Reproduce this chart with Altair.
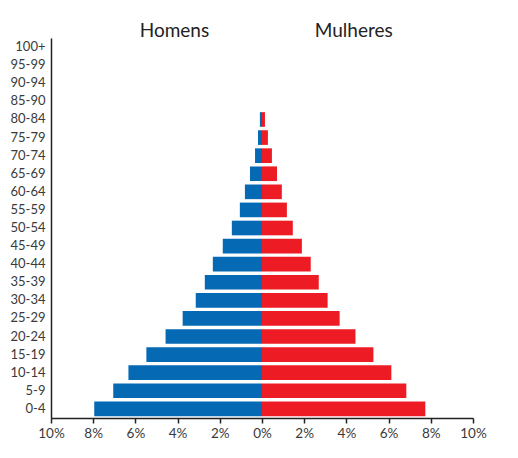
import altair as alt
import pandas as pd

ages = ["0-4", "5-9", "10-14", "15-19", "20-24", "25-29", "30-34", "35-39",
        "40-44", "45-49", "50-54", "55-59", "60-64", "65-69", "70-74", "75-79",
        "80-84", "85-90", "90-94", "95-99", "100+"]
homens = [7.95, 7.05, 6.33, 5.48, 4.57, 3.76, 3.14, 2.71, 2.33, 1.86, 1.43,
          1.05, 0.81, 0.57, 0.33, 0.19, 0.10, 0, 0, 0, 0]
mulheres = [7.74, 6.84, 6.13, 5.28, 4.43, 3.68, 3.11, 2.69, 2.31, 1.89, 1.46,
            1.18, 0.94, 0.71, 0.47, 0.28, 0.14, 0, 0, 0, 0]
titles = ["Homens", "Mulheres"]
title_pos = [-4.15, 4.35]

rows = []
for a, h, m in zip(ages, homens, mulheres):
    rows.append({"idade": a, "sexo": "Homens", "v": -h})
    rows.append({"idade": a, "sexo": "Mulheres", "v": m})
df = pd.DataFrame(rows)
tdf = pd.DataFrame({"t": titles, "x": title_pos})

FONT = "Lato"
order = list(reversed(ages))

bars = alt.Chart(df).mark_bar().encode(
    y=alt.Y("idade:N", sort=order,
            scale=alt.Scale(paddingInner=0.19, paddingOuter=0.1),
            axis=alt.Axis(title=None, ticks=False, labelPadding=6, domainColor="#222",
                          domainWidth=1.5, labelFontSize=13, labelColor="#3a3a3a",
                          labelFont=FONT)),
    x=alt.X("v:Q", scale=alt.Scale(domain=[-10, 10], nice=False),
            axis=alt.Axis(title=None, values=list(range(-10, 11, 2)), grid=False,
                          labelExpr="abs(datum.value) + '%'", tickSize=5,
                          labelFlush=False, labelOverlap=False,
                          tickColor="#222", domainColor="#222", domainWidth=1.5,
                          tickWidth=1.5, labelFontSize=13.5, labelColor="#3a3a3a",
                          labelFont=FONT, labelPadding=3)),
    color=alt.Color("sexo:N", legend=None,
                    scale=alt.Scale(domain=["Homens", "Mulheres"],
                                    range=["#0569b3", "#ed1c24"])),
)

text = alt.Chart(tdf).mark_text(fontSize=19, font=FONT, color="#222",
                                baseline="middle").encode(
    x=alt.X("x:Q"),
    y=alt.value(-7),
    text="t:N",
)

chart = alt.layer(bars, text).properties(
    width=422, height=380,
    autosize=alt.AutoSizeParams(type="none"),
    padding={"left": 51, "top": 38, "right": 45, "bottom": 40},
).configure_view(stroke=None)

chart.save("out.html", embed_options={"renderer": "svg", "actions": False})
